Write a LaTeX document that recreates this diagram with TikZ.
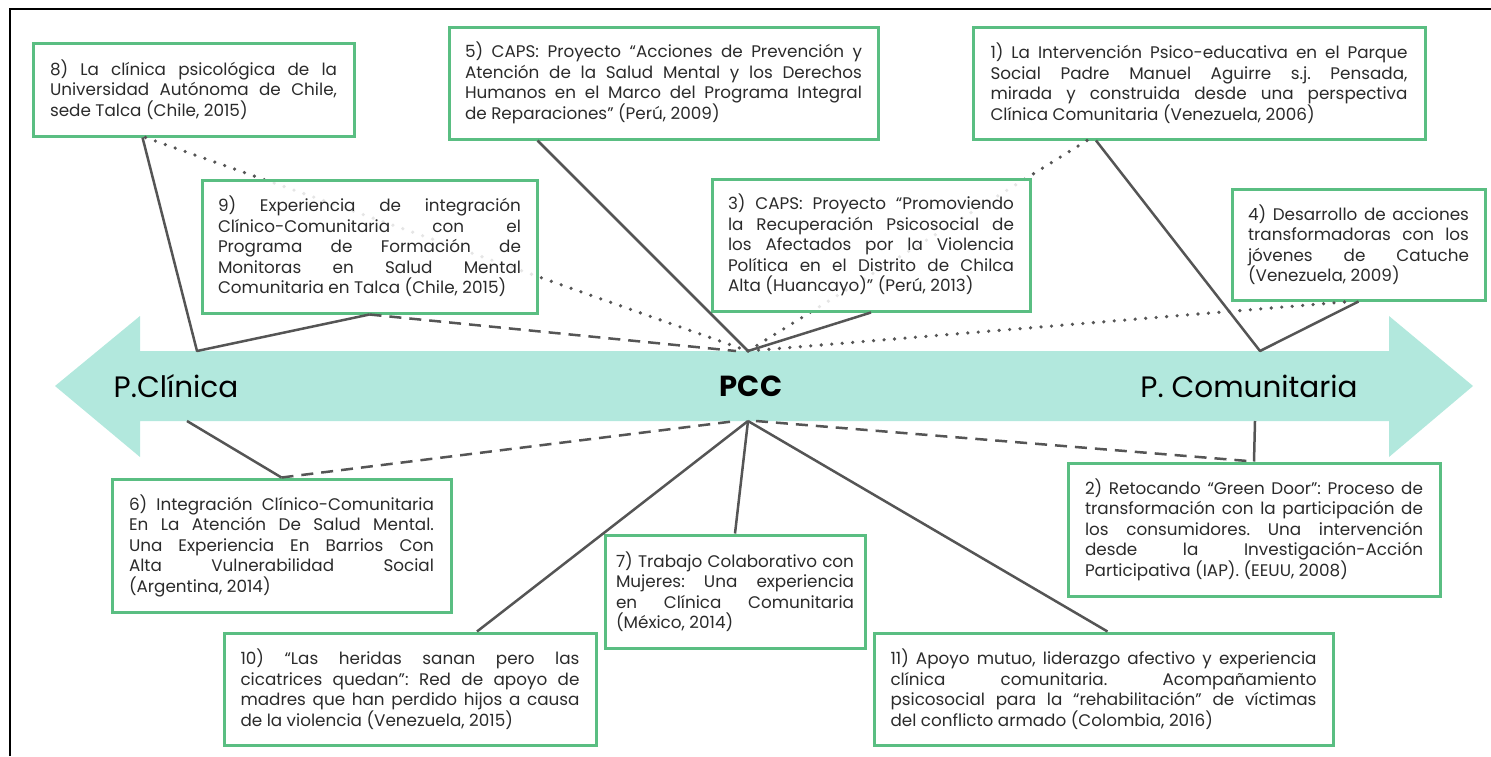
\documentclass[tikz,border=0pt]{standalone}
\usepackage{fontspec}
\setmainfont{Poppins}
\definecolor{boxgreen}{HTML}{5ABE82}
\definecolor{arrowteal}{HTML}{B2E8DD}
\definecolor{linegray}{HTML}{555555}
\definecolor{txt}{HTML}{2B2B2B}
\hyphenpenalty=10000
\exhyphenpenalty=10000
\tolerance=10000
\frenchspacing
\begin{document}
\begin{tikzpicture}[x=1pt,y=-1pt]
	\tikzstyle{Box} = [draw=boxgreen, line width=3pt, fill=white, fill opacity=0.85, text opacity=1, align=justify, inner sep=4pt, text=txt, font=\fontsize{16.8}{20.5}\selectfont]
	\tikzstyle{Pole} = [text=black, font=\fontsize{29.5}{34}\selectfont]
	\tikzstyle{Link} = [draw=linegray, line width=2.5pt, line join=round]
	\tikzstyle{DashLink} = [Link, dash pattern=on 12pt off 8pt]
	\tikzstyle{DotLink} = [Link, line width=3.6pt, line cap=round, dash pattern=on 0pt off 10.5pt]
	\useasboundingbox (0,0) rectangle (1491,756);
	\draw [line width=2.5pt] (10,756) -- (10,9) -- (1491,9);
	% flecha doble
	\fill [arrowteal] (55,386) -- (140,316) -- (140,351) -- (1389,351) -- (1389,316) -- (1473,386)
		-- (1389,457) -- (1389,421) -- (140,421) -- (140,457) -- cycle;
	\node (PCl) at (176,386) [Pole] {P.Clínica};
	\node (PCC) at (751,386) [Pole, font=\fontsize{29}{34}\selectfont\bfseries] {PCC};
	\node (PCo) at (1249,386) [Pole] {P. Comunitaria};
	\coordinate (PCCn) at (748,351);
	\coordinate (PCCs) at (748,421);
	\coordinate (Kn) at (197,351);
	\coordinate (Ks) at (187,421);
	\coordinate (Cn) at (1260,351);
	\coordinate (Cs) at (1255,421);
	% casos (posiciones)
	\path (193.5,89.5) coordinate (p8) (369.5,246.5) coordinate (p9) (663.5,83) coordinate (p5)
		(871,245) coordinate (p3) (1199,83) coordinate (p1) (1358.5,244.5) coordinate (p4)
		(281.5,545.5) coordinate (p6) (410,689) coordinate (p10) (735,591.5) coordinate (p7)
		(1254,529.5) coordinate (p2) (1103.5,689) coordinate (p11);
	\node (E8) at (p8) [Box, minimum width=321pt, minimum height=93pt, text width=287pt] {8) La clínica psicológica de la\linebreak Universidad Autónoma de Chile,\linebreak sede Talca (Chile, 2015)};
	\node (E1) at (p1) [Box, minimum width=452pt, minimum height=112pt, text width=417pt] {1) La Intervención Psico-educativa en el Parque\linebreak Social Padre Manuel Aguirre s.j. Pensada,\linebreak mirada y construida desde una perspectiva\linebreak Clínica Comunitaria (Venezuela, 2006)};
	% conexiones que pasan por detras
	\draw [DotLink] ([xshift=-48pt]E8.south) to (PCCn);
	\draw [DotLink] ([xshift=-112pt]E1.south) to (PCCn);
	\node (E9) at (p9) [Box, minimum width=335pt, minimum height=133pt, text width=303pt] {9) Experiencia de integración\linebreak Clínico-Comunitaria con el\linebreak Programa de Formación de\linebreak Monitoras en Salud Mental\linebreak Comunitaria en Talca (Chile, 2015)};
	\node (E5) at (p5) [Box, minimum width=429pt, minimum height=112pt, text width=397pt] {5) CAPS: Proyecto “Acciones de Prevención y\linebreak Atención de la Salud Mental y los Derechos\linebreak Humanos en el Marco del Programa Integral\linebreak de Reparaciones” (Perú, 2009)};
	\node (E3) at (p3) [Box, minimum width=318pt, minimum height=132pt, text width=286pt] {3) CAPS: Proyecto “Promoviendo\linebreak la Recuperación Psicosocial de\linebreak los Afectados por la Violencia\linebreak Política en el Distrito de Chilca\linebreak Alta (Huancayo)” (Perú, 2013)};
	\node (E4) at (p4) [Box, minimum width=253pt, minimum height=111pt, text width=221pt] {4) Desarrollo de acciones\linebreak transformadoras con los\linebreak jóvenes de Catuche\linebreak (Venezuela, 2009)};
	\node (E6) at (p6) [Box, minimum width=339pt, minimum height=133pt, text width=305pt] {6) Integración Clínico-Comunitaria\linebreak En La Atención De Salud Mental.\linebreak Una Experiencia En Barrios Con\linebreak Alta Vulnerabilidad Social\linebreak (Argentina, 2014)};
	\node (E10) at (p10) [Box, minimum width=372pt, minimum height=112pt, text width=339pt] {10) “Las heridas sanan pero las\linebreak cicatrices quedan”: Red de apoyo de\linebreak madres que han perdido hijos a causa\linebreak de la violencia (Venezuela, 2015)};
	\node (E7) at (p7) [Box, minimum width=260pt, minimum height=113pt, text width=238pt] {7) Trabajo Colaborativo con\linebreak Mujeres: Una experiencia\linebreak en Clínica Comunitaria\linebreak (México, 2014)};
	\node (E2) at (p2) [Box, minimum width=372pt, minimum height=133pt, text width=338pt] {2) Retocando “Green Door”: Proceso de\linebreak transformación con la participación de\linebreak los consumidores. Una intervención\linebreak desde la Investigación-Acción\linebreak Participativa (IAP). (EEUU, 2008)};
	\node (E11) at (p11) [Box, minimum width=459pt, minimum height=112pt, text width=426pt] {11) Apoyo mutuo, liderazgo afectivo y experiencia\linebreak clínica comunitaria. Acompañamiento\linebreak psicosocial para la “rehabilitación” de víctimas\linebreak del conflicto armado (Colombia, 2016)};
	% conexiones arriba
	\draw [Link] ([xshift=-51pt]E8.south) -- (Kn) -- (E9.south);
	\draw [DashLink] (E9.south) to ([xshift=-12pt]PCCn);
	\draw [Link] ([xshift=-126pt]E5.south) to (PCCn);
	\draw [Link] (E3.south) to (PCCn);
	\draw [Link] ([xshift=-103pt]E1.south) -- (Cn) -- (E4.south);
	\draw [DotLink] (PCCn) to ([xshift=-8pt]E4.south);
	% conexiones abajo
	\draw [Link] (Ks) to (E6.north);
	\draw [DashLink] (E6.north) to ([xshift=-12pt]PCCs);
	\draw [Link] ([xshift=67pt]E10.north) to (PCCs);
	\draw [Link] (E7.north) to (PCCs);
	\draw [Link] (PCCs) to ([xshift=4pt]E11.north);
	\draw [DashLink] ([xshift=8pt]PCCs) to (E2.north);
	\draw [Link] (Cs) to (E2.north);
\end{tikzpicture}
\end{document}
